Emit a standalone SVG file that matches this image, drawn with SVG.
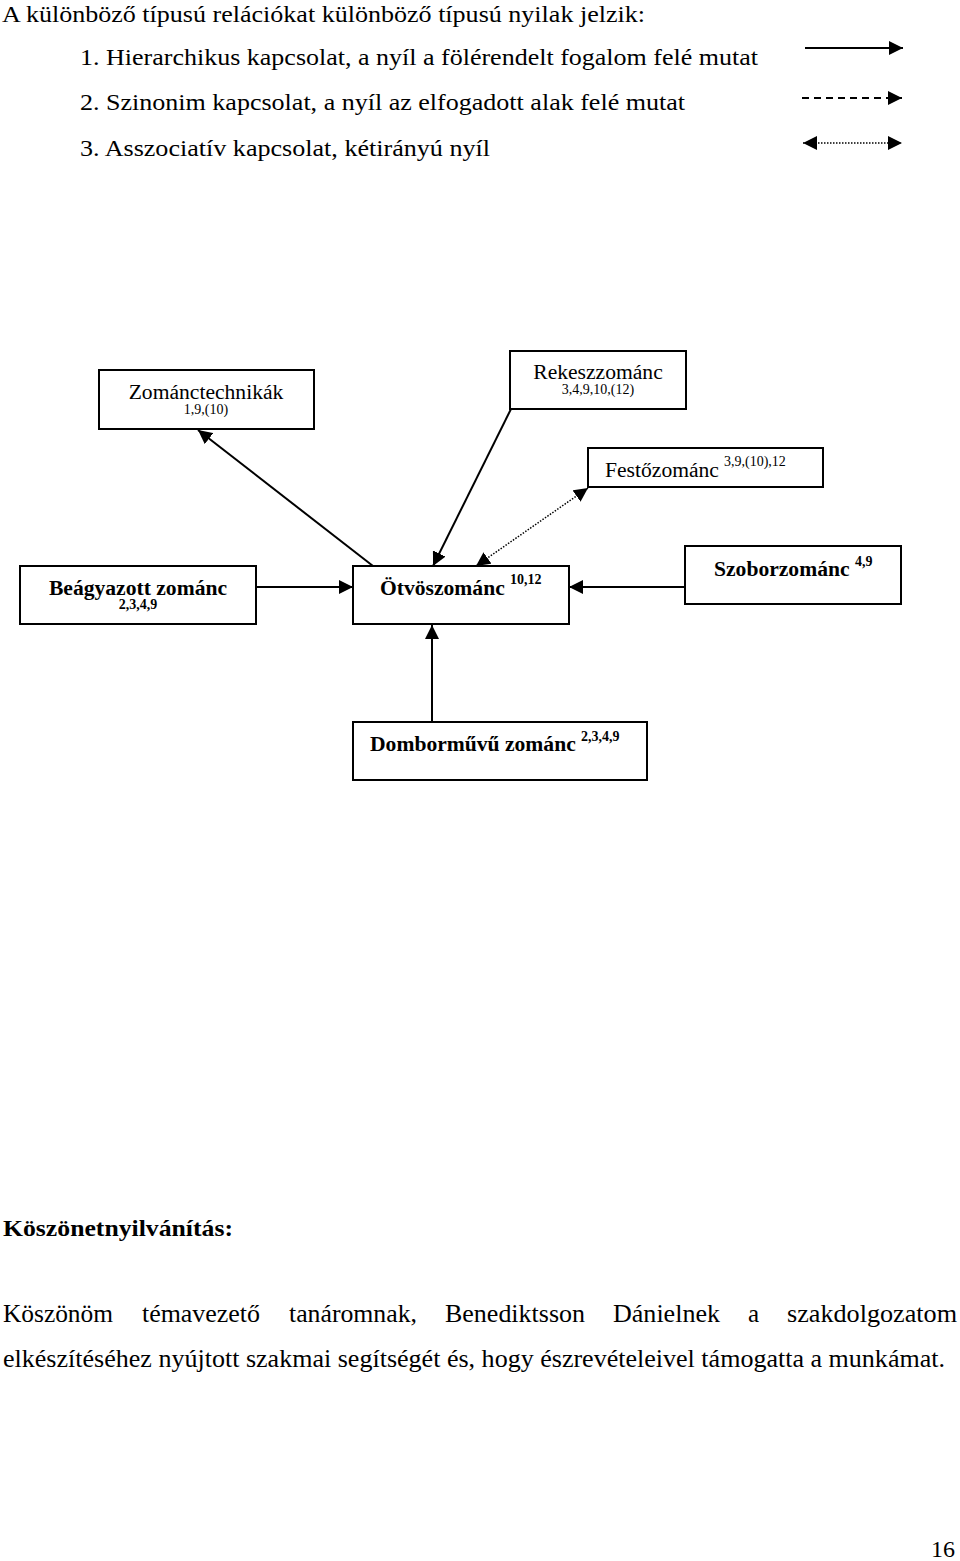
<svg xmlns="http://www.w3.org/2000/svg" width="960" height="1561" viewBox="0 0 960 1561">
<style>
text{font-family:"Liberation Serif","Times New Roman",serif;fill:#000}
.t{font-size:24px}
.f{font-size:25px}
.b{font-weight:bold}
.box{fill:#fff;stroke:#000;stroke-width:2}
.ln{fill:none;stroke:#000;stroke-width:2}
.dot{fill:none;stroke:#000;stroke-width:1.5;stroke-dasharray:1.5,1.5}
.dash{fill:none;stroke:#000;stroke-width:2;stroke-dasharray:7,5}
.n{font-size:21.6px}
.s{font-size:14px}
</style>
<defs>
<marker id="arr" markerUnits="userSpaceOnUse" markerWidth="14" markerHeight="14" viewBox="0 0 14 14" refX="14" refY="7" orient="auto-start-reverse">
<path d="M0,0 L14,7 L0,14 z" fill="#000"/>
</marker>
</defs>
<g id="intro">
<text class="t" x="2" y="22" textLength="643" lengthAdjust="spacingAndGlyphs">A különböző típusú relációkat különböző típusú nyilak jelzik:</text>
<text class="t" x="80" y="65" textLength="678" lengthAdjust="spacingAndGlyphs">1. Hierarchikus kapcsolat, a nyíl a fölérendelt fogalom felé mutat</text>
<text class="t" x="80" y="110" textLength="605" lengthAdjust="spacingAndGlyphs">2. Szinonim kapcsolat, a nyíl az elfogadott alak felé mutat</text>
<text class="t" x="80" y="156" textLength="410" lengthAdjust="spacingAndGlyphs">3. Asszociatív kapcsolat, kétirányú nyíl</text>
</g>
<g id="legend">
<line class="ln" x1="805" y1="48" x2="903" y2="48" marker-end="url(#arr)"/>
<line class="dash" x1="802" y1="98" x2="902" y2="98" marker-end="url(#arr)"/>
<line class="dot" x1="803" y1="143" x2="902" y2="143" marker-start="url(#arr)" marker-end="url(#arr)"/>
</g>
<g id="connectors">
<line class="ln" x1="373" y1="566" x2="198" y2="430" marker-end="url(#arr)"/>
<line class="ln" x1="511" y1="409" x2="433" y2="566" marker-end="url(#arr)"/>
<line class="dot" x1="588" y1="488" x2="476" y2="566" marker-start="url(#arr)" marker-end="url(#arr)"/>
<line class="ln" x1="256" y1="587" x2="353" y2="587" marker-end="url(#arr)"/>
<line class="ln" x1="685" y1="587" x2="569" y2="587" marker-end="url(#arr)"/>
<line class="ln" x1="432" y1="722" x2="432" y2="625" marker-end="url(#arr)"/>
</g>
<g id="zomanctechnikak">
<rect class="box" x="99" y="370" width="215" height="59"/>
<text class="n" x="206" y="399" text-anchor="middle">Zománctechnikák</text>
<text class="s" x="206" y="414" text-anchor="middle">1,9,(10)</text>
</g>
<g id="rekeszzomanc">
<rect class="box" x="510" y="351" width="176" height="58"/>
<text class="n" x="598" y="379" text-anchor="middle">Rekeszzománc</text>
<text class="s" x="598" y="394" text-anchor="middle">3,4,9,10,(12)</text>
</g>
<g id="festozomanc">
<rect class="box" x="588" y="448" width="235" height="39"/>
<text class="n" x="605" y="477">Festőzománc</text>
<text class="s" x="724" y="466">3,9,(10),12</text>
</g>
<g id="beagyazott">
<rect class="box" x="20" y="566" width="236" height="58"/>
<text class="n b" x="138" y="595" text-anchor="middle">Beágyazott zománc</text>
<text class="s b" x="138" y="609" text-anchor="middle">2,3,4,9</text>
</g>
<g id="otvoszomanc">
<rect class="box" x="353" y="566" width="216" height="58"/>
<text class="n b" x="380" y="595">Ötvöszománc</text>
<text class="s b" x="510" y="584">10,12</text>
</g>
<g id="szoborzomanc">
<rect class="box" x="685" y="546" width="216" height="58"/>
<text class="n b" x="714" y="576">Szoborzománc</text>
<text class="s b" x="855" y="566">4,9</text>
</g>
<g id="dombormuvu">
<rect class="box" x="353" y="722" width="294" height="58"/>
<text class="n b" x="370" y="751">Domborművű zománc</text>
<text class="s b" x="581" y="741">2,3,4,9</text>
</g>
<g id="footer">
<text class="t b" x="3" y="1236" textLength="230" lengthAdjust="spacingAndGlyphs">Köszönetnyilvánítás:</text>
<text class="f" x="3" y="1322" textLength="110" lengthAdjust="spacingAndGlyphs">Köszönöm</text>
<text class="f" x="142" y="1322" textLength="118" lengthAdjust="spacingAndGlyphs">témavezető</text>
<text class="f" x="289" y="1322" textLength="128" lengthAdjust="spacingAndGlyphs">tanáromnak,</text>
<text class="f" x="445" y="1322" textLength="140" lengthAdjust="spacingAndGlyphs">Benediktsson</text>
<text class="f" x="613" y="1322" textLength="107" lengthAdjust="spacingAndGlyphs">Dánielnek</text>
<text class="f" x="748" y="1322">a</text>
<text class="f" x="787" y="1322" textLength="170" lengthAdjust="spacingAndGlyphs">szakdolgozatom</text>
<text class="f" x="3" y="1367" textLength="942" lengthAdjust="spacingAndGlyphs">elkészítéséhez nyújtott szakmai segítségét és, hogy észrevételeivel támogatta a munkámat.</text>
<text class="t" x="931" y="1557">16</text>
</g>
</svg>
